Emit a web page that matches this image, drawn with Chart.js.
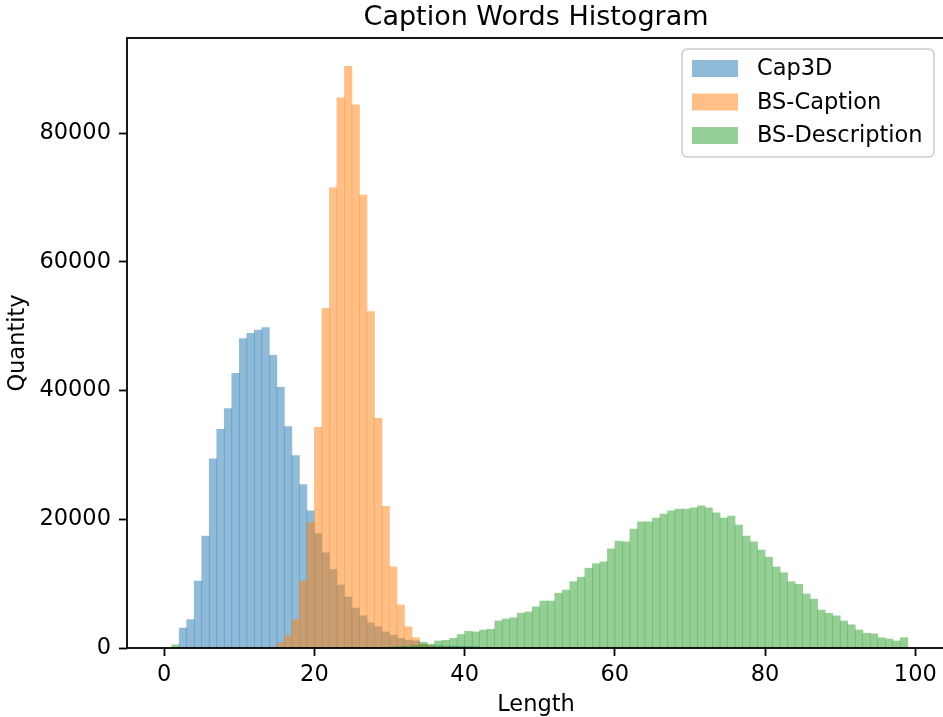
<!DOCTYPE html>
<html lang="en">
<head>
<meta charset="UTF-8">
<title>Caption Words Histogram</title>
<script src="https://cdn.jsdelivr.net/npm/chart.js"></script>
<style>
  html, body { margin: 0; padding: 0; background: #fff; overflow: hidden; }
  .chartBox { width: 943px; height: 717px; overflow: hidden; }
</style>
</head>
<body>
<div class="chartBox"><canvas id="hist" width="946" height="717"></canvas></div>
<script>
// left edge of each 1-word bin
const binStart = [1, 2, 3, 4, 5, 6, 7, 8, 9, 10, 11, 12, 13, 14, 15, 16, 17, 18, 19, 20,
  21, 22, 23, 24, 25, 26, 27, 28, 29, 30, 31, 32, 33, 34, 35, 36, 37, 38, 39, 40,
  41, 42, 43, 44, 45, 46, 47, 48, 49, 50, 51, 52, 53, 54, 55, 56, 57, 58, 59, 60,
  61, 62, 63, 64, 65, 66, 67, 68, 69, 70, 71, 72, 73, 74, 75, 76, 77, 78, 79, 80,
  81, 82, 83, 84, 85, 86, 87, 88, 89, 90, 91, 92, 93, 94, 95, 96, 97, 98];

const cap3d = [0, 3100, 4400, 10400, 17400, 29400, 34000, 37200, 42700, 48100,
  48900, 49400, 49800, 45500, 40500, 34400, 29900, 25400, 21300, 17800,
  14800, 12200, 9800, 7900, 6200, 5000, 3900, 3300, 2500, 2000,
  1500, 1200, 1100, 500, 350, 350, 300, 300, 250, 250,
  200, 0, 0, 0, 0, 0, 0, 0, 0, 0,
  0, 0, 0, 0, 0, 0, 0, 0, 0, 0, 0, 0, 0, 0, 0, 0, 0, 0, 0, 0,
  0, 0, 0, 0, 0, 0, 0, 0, 0, 0, 0, 0, 0, 0, 0, 0, 0, 0, 0, 0,
  0, 0, 0, 0, 0, 0, 0, 0];

const bsCaption = [0, 0, 0, 0, 0, 0, 0, 0, 0, 0,
  0, 0, 0, 0, 800, 1900, 4400, 10400, 19500, 34300,
  52800, 71500, 85500, 90400, 84400, 70400, 52300, 35700, 22000, 12600,
  6700, 3300, 1600, 600, 300, 150, 100, 0, 0, 0,
  0, 0, 0, 0, 0, 0, 0, 0, 0, 0,
  0, 0, 0, 0, 0, 0, 0, 0, 0, 0, 0, 0, 0, 0, 0, 0, 0, 0, 0, 0,
  0, 0, 0, 0, 0, 0, 0, 0, 0, 0, 0, 0, 0, 0, 0, 0, 0, 0, 0, 0,
  0, 0, 0, 0, 0, 0, 0, 0];

const bsDescription = [500, 0, 0, 0, 0, 0, 0, 0, 0, 0,
  0, 0, 0, 0, 0, 0, 0, 0, 0, 0,
  0, 0, 0, 0, 0, 0, 0, 0, 0, 200,
  250, 300, 400, 900, 600, 1100, 1200, 1500, 2100, 2600,
  2500, 2800, 2900, 4200, 4500, 4700, 5400, 5600, 6400, 7300,
  7300, 8500, 9000, 10300, 11000, 12400, 13100, 13400, 15400, 16600,
  16500, 18500, 19600, 19600, 20200, 20800, 21300, 21600, 21600, 21800,
  22100, 21800, 21000, 20200, 20500, 19100, 17400, 16500, 15200, 14100,
  12600, 11700, 10300, 9900, 8400, 7600, 5900, 5400, 5000, 4200,
  3600, 2800, 2300, 2200, 1600, 1400, 1100, 1600];

const seriesNames = ["Cap3D", "BS-Caption", "BS-Description"];
const seriesColors = ["rgba(31, 119, 180, 0.5)", "rgba(255, 127, 14, 0.5)", "rgba(44, 160, 44, 0.5)"];
const xTicks = [0, 20, 40, 60, 80, 100];
const yTicks = [0, 20000, 40000, 60000, 80000];

const FONT = "'DejaVu Sans', sans-serif";

function toPoints(values) {
  return binStart.map((b, i) => ({ x: b + 0.5, y: values[i] }));
}

const allSeries = [cap3d, bsCaption, bsDescription];
const datasets = allSeries.map((vals, i) => ({
  label: seriesNames[i],
  data: toPoints(vals),
  backgroundColor: seriesColors[i],
  borderWidth: 0,
  barPercentage: 1,
  categoryPercentage: 1,
  grouped: false,
  order: 3 - i, // blue drawn first, green last (like matplotlib)
}));

// spines, title, axis labels and legend box
const decorations = {
  id: "decorations",
  afterDatasetsDraw(chart) {
    const { ctx, chartArea: { left, right, top, bottom } } = chart;
    ctx.save();
    ctx.strokeStyle = "#000";
    ctx.lineWidth = 1.8;
    ctx.strokeRect(left, top, right - left, bottom - top);
    ctx.restore();
  },
  afterDraw(chart) {
    const { ctx, chartArea: { left, right, top, bottom } } = chart;
    const cx = (left + right) / 2;
    ctx.save();
    ctx.fillStyle = "#000";
    ctx.textAlign = "center";
    ctx.textBaseline = "alphabetic";

    ctx.font = "27px " + FONT;
    ctx.fillText("Caption Words Histogram", cx, top - 13);

    ctx.font = "22.5px " + FONT;
    ctx.fillText("Length", cx, 711);

    ctx.save();
    ctx.translate(24, (top + bottom) / 2);
    ctx.rotate(-Math.PI / 2);
    ctx.fillText("Quantity", 0, 0);
    ctx.restore();

    // legend
    const bx = 682, by = 49, bw = 252, bh = 108, r = 5;
    ctx.beginPath();
    ctx.moveTo(bx + r, by);
    ctx.arcTo(bx + bw, by, bx + bw, by + bh, r);
    ctx.arcTo(bx + bw, by + bh, bx, by + bh, r);
    ctx.arcTo(bx, by + bh, bx, by, r);
    ctx.arcTo(bx, by, bx + bw, by, r);
    ctx.closePath();
    ctx.fillStyle = "rgba(255,255,255,0.8)";
    ctx.fill();
    ctx.strokeStyle = "#cccccc";
    ctx.lineWidth = 1.5;
    ctx.stroke();

    ctx.textAlign = "left";
    ctx.textBaseline = "middle";
    seriesNames.forEach((name, i) => {
      const rowY = 68.5 + i * 33.5;
      ctx.fillStyle = seriesColors[i];
      ctx.fillRect(692, rowY - 8.5, 46, 17);
      ctx.fillStyle = "#000";
      ctx.fillText(name, 757, rowY + 1);
    });
    ctx.restore();
  },
};

const tickFont = { family: FONT, size: 22.5 };

new Chart(document.getElementById("hist"), {
  type: "bar",
  data: { datasets },
  options: {
    responsive: false,
    devicePixelRatio: 1,
    animation: false,
    layout: { padding: { left: 0, right: 1, top: 38, bottom: 0 } },
    plugins: {
      legend: { display: false },
      tooltip: { enabled: false },
      title: { display: false },
    },
    scales: {
      x: {
        type: "linear",
        offset: false,
        min: -4.95,
        max: 103.95,
        afterBuildTicks: (s) => { s.ticks = xTicks.map((v) => ({ value: v })); },
        afterFit: (s) => { s.height = 69; },
        ticks: { font: tickFont, color: "#000", padding: 6, maxRotation: 0, autoSkip: false,
          callback: (v) => String(v) },
        grid: { offset: false, drawOnChartArea: false, drawTicks: true, tickLength: 8, tickWidth: 1.8, tickColor: "#000" },
        border: { display: false },
      },
      y: {
        type: "linear",
        min: 0,
        max: 94800,
        afterBuildTicks: (s) => { s.ticks = yTicks.map((v) => ({ value: v })); },
        afterFit: (s) => { s.width = 127; },
        ticks: { font: tickFont, color: "#000", padding: 8, autoSkip: false,
          callback: (v) => String(v) },
        grid: { drawOnChartArea: false, drawTicks: true, tickLength: 8, tickWidth: 1.8, tickColor: "#000" },
        border: { display: false },
      },
    },
  },
  plugins: [decorations],
});
</script>
</body>
</html>
